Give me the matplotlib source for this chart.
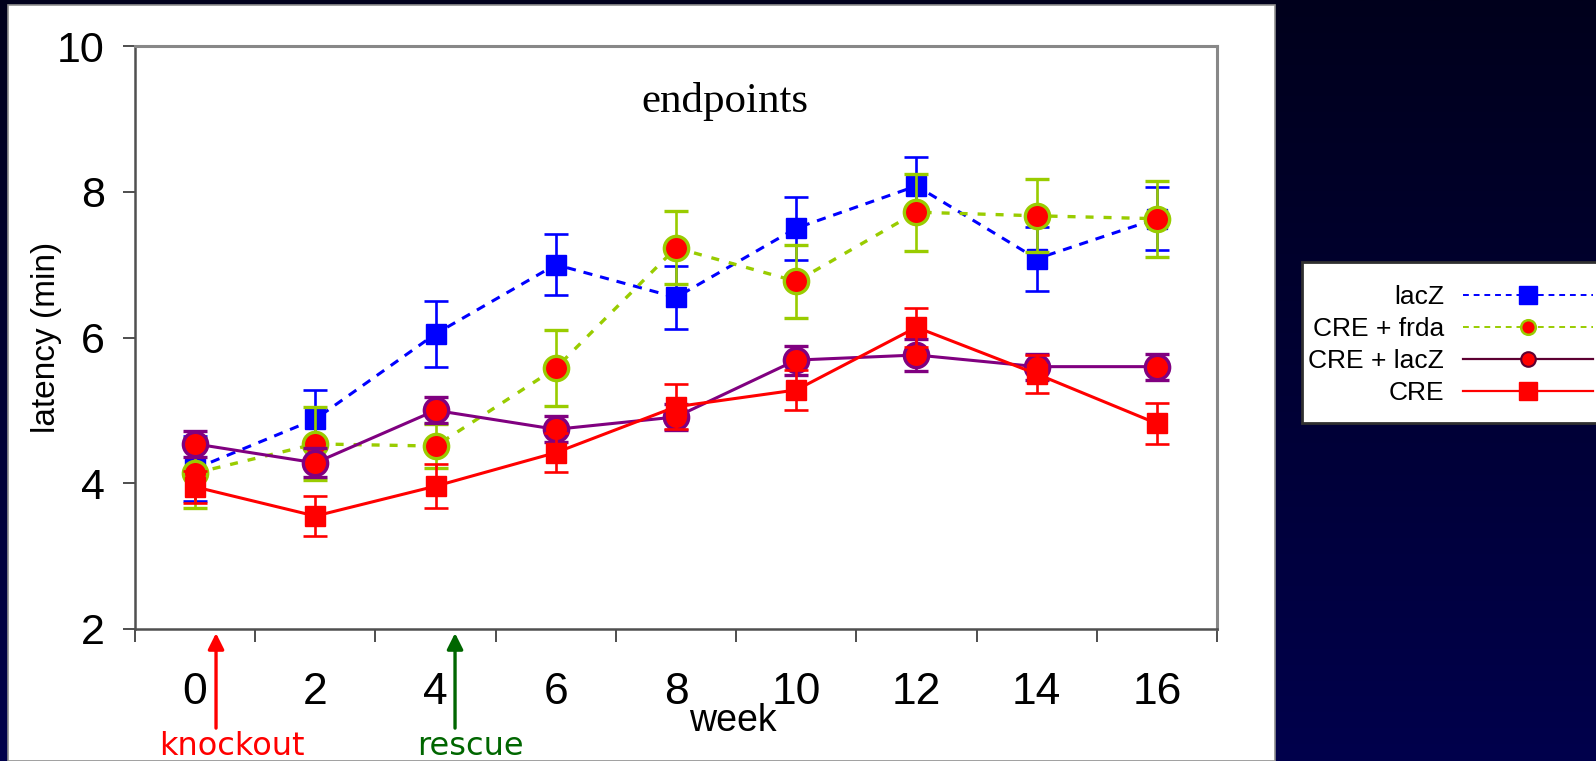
import numpy as np
import matplotlib
matplotlib.use("Agg")
import matplotlib.pyplot as plt
from matplotlib.lines import Line2D
from matplotlib.patches import Rectangle

plt.rcParams["font.family"] = ["Liberation Sans", "DejaVu Sans"]

weeks = ["0", "2", "4", "6", "8", "10", "12", "14", "16"]
lacz = [4.2, 4.88, 6.05, 7.0, 6.55, 7.5, 8.08, 7.08, 7.63]
lacz_err = [0.45, 0.4, 0.45, 0.42, 0.43, 0.43, 0.4, 0.44, 0.43]
cre_frda = [4.14, 4.54, 4.51, 5.58, 7.23, 6.77, 7.72, 7.67, 7.63]
cre_frda_err = [0.48, 0.5, 0.3, 0.52, 0.5, 0.5, 0.53, 0.5, 0.52]
cre_lacz = [4.54, 4.28, 5.0, 4.74, 4.91, 5.69, 5.76, 5.6, 5.6]
cre_lacz_err = [0.18, 0.2, 0.18, 0.18, 0.18, 0.2, 0.22, 0.18, 0.18]
cre = [3.95, 3.55, 3.96, 4.42, 5.05, 5.28, 6.14, 5.5, 4.82]
cre_err = [0.22, 0.27, 0.3, 0.27, 0.31, 0.28, 0.27, 0.26, 0.28]
labels = ["lacZ", "CRE + frda", "CRE + lacZ", "CRE"]

BLUE, GREEN, PURPLE, RED = "#0000ff", "#99cc00", "#800080", "#ff0000"
W, H = 1596, 761

fig = plt.figure(figsize=(W / 100, H / 100), dpi=100)

# dark navy gradient background + white slide panel
bg = fig.add_axes([0, 0, 1, 1], zorder=-10)
grad = np.linspace(0, 1, 256).reshape(-1, 1)
cmap = matplotlib.colors.LinearSegmentedColormap.from_list("bg", ["#00001c", "#00004c"])
bg.imshow(grad, aspect="auto", cmap=cmap, extent=[0, 1, 0, 1], origin="upper")
bg.add_patch(Rectangle((8 / W, 0), (1275 - 8) / W, 1 - 5 / H, facecolor="white",
                       edgecolor="#909090", lw=1.2))
bg.add_patch(Rectangle((1302 / W, 1 - 423 / H), 0.2, (423 - 262) / H, facecolor="white",
                       edgecolor="#303030", lw=2))
bg.set_xlim(0, 1); bg.set_ylim(0, 1)
bg.axis("off")

ax = fig.add_axes([135 / W, 1 - 629 / H, (1217 - 135) / W, (629 - 46) / H])
x = np.arange(len(weeks))

ekw = dict(elinewidth=1.9, capsize=8.5, capthick=1.9)
ax.errorbar(x, lacz, yerr=lacz_err, color=BLUE, ls=(0, (3, 2.6)), lw=2.2, marker="s",
            ms=15, mfc=BLUE, mec=BLUE, ecolor=BLUE, zorder=2, **ekw)
ax.errorbar(x, cre_frda, yerr=cre_frda_err, color=GREEN, ls=(0, (2.4, 3)), lw=2.4, marker="o",
            ms=17.5, mfc=RED, mec=GREEN, mew=2.4, ecolor=GREEN, zorder=3, **ekw)
ax.errorbar(x, cre_lacz, yerr=cre_lacz_err, color=PURPLE, ls="-", lw=2.2, marker="o",
            ms=17.5, mfc=RED, mec=PURPLE, mew=2.4, ecolor=PURPLE, zorder=4, **ekw)
ax.errorbar(x, cre, yerr=cre_err, color=RED, ls="-", lw=2.2, marker="s",
            ms=15, mfc=RED, mec=RED, ecolor=RED, zorder=5, **ekw)

ax.set_xlim(-0.5, len(weeks) - 0.5)
ax.set_ylim(2, 10)
ax.set_yticks([2, 4, 6, 8, 10])
ax.tick_params(axis="y", length=8.6, width=1.3, color="#404040", pad=13, labelsize=31)
ax.set_xticks(np.arange(len(weeks) + 1) - 0.5)
ax.set_xticklabels([])
ax.set_xticks(x, minor=True)
ax.set_xticklabels(weeks, minor=True)
ax.tick_params(axis="x", which="major", length=9.4, width=1.3, color="#404040")
ax.tick_params(axis="x", which="minor", length=0, pad=31, labelsize=32)
for s in ("left", "bottom"):
    ax.spines[s].set_color("#505050"); ax.spines[s].set_linewidth(1.8)
for s in ("top", "right"):
    ax.spines[s].set_color("#888888"); ax.spines[s].set_linewidth(2.2)

ax.set_ylabel("latency (min)", fontsize=24)
ax.yaxis.set_label_coords((62 - 135) / 1082, 0.5)
ax.text(0.545, 0.887, "endpoints", transform=ax.transAxes, ha="center", va="baseline",
        fontsize=31, family="Liberation Serif")
fig.text(733 / W, 1 - 731 / H, "week", ha="center", va="baseline", fontsize=27)

# knockout / rescue markers
tr = ax.get_xaxis_transform()
for xi, txt, col in [(0.174, "knockout", RED), (2.162, "rescue", "#006600")]:
    ax.annotate("", xy=(xi, -0.007), xytext=(xi, -0.17), xycoords=tr, textcoords=tr,
                arrowprops=dict(arrowstyle="-|>", color=col, lw=2.4, mutation_scale=24,
                                shrinkA=0, shrinkB=0), annotation_clip=False)
    ax.text(xi + 0.13, -0.216, txt, transform=tr, ha="center", va="baseline",
            fontsize=23, color=col, family="DejaVu Sans")

handles = [
    Line2D([], [], color=BLUE, ls=(0, (3, 2.5)), lw=1.4, marker="s", ms=12.5, mfc=BLUE, mec=BLUE),
    Line2D([], [], color=GREEN, ls=(0, (3, 2.5)), lw=1.4, marker="o", ms=10.5, mfc=RED, mec=GREEN, mew=1.8),
    Line2D([], [], color="#5c0032", ls="-", lw=1.6, marker="o", ms=10.5, mfc=RED, mec="#5c0032", mew=1.5),
    Line2D([], [], color=RED, ls="-", lw=1.6, marker="s", ms=12.5, mfc=RED, mec=RED),
]
fig.legend(handles, labels, loc="center right", bbox_to_anchor=(1593 / W, 1 - 345 / H),
           frameon=False, markerfirst=False, fontsize=19, borderpad=0, borderaxespad=0,
           labelspacing=0.3, handlelength=4.92, handletextpad=0.72)

fig.savefig("out.png", dpi=100)
